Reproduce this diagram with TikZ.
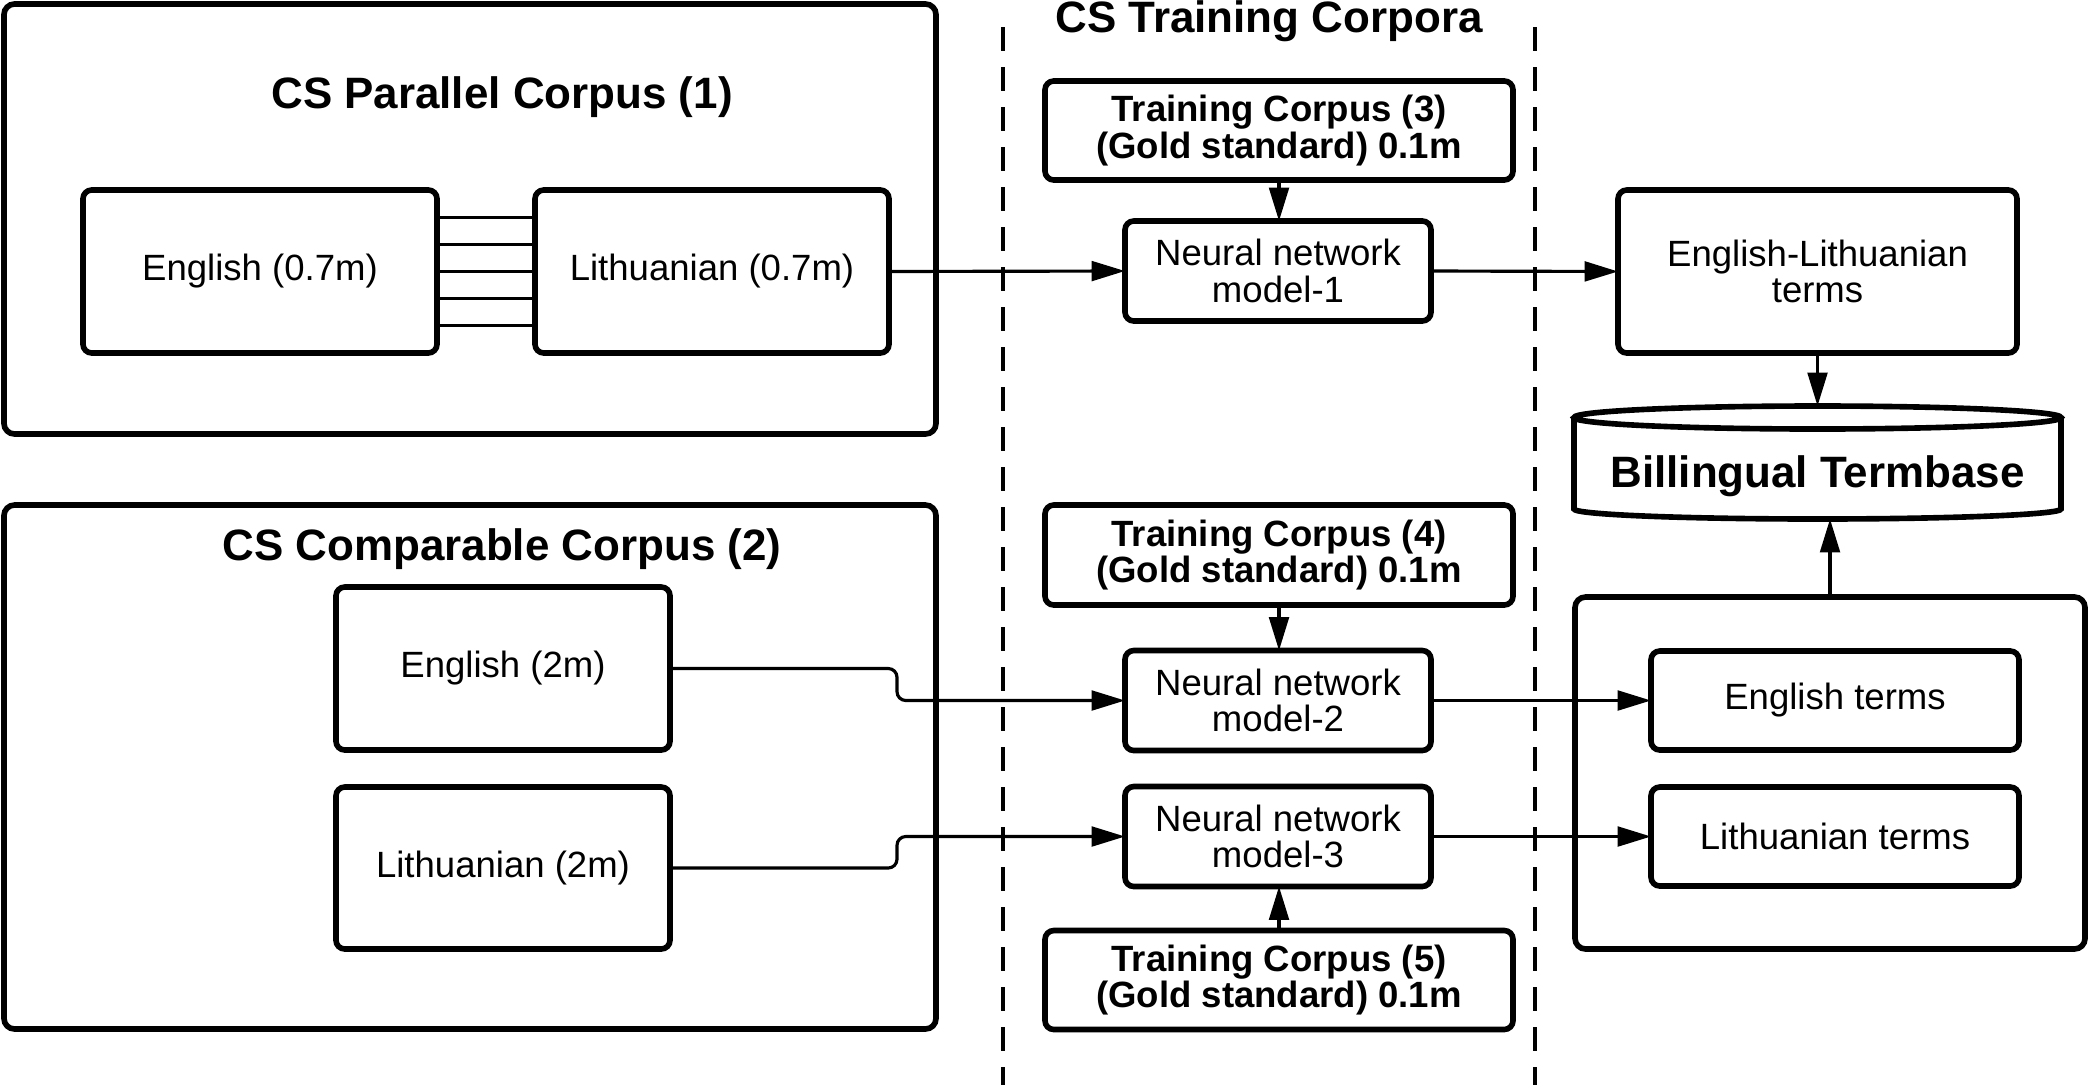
\documentclass[tikz,border=0pt]{standalone}
\usepackage{fontspec}
\setmainfont{Liberation Sans}
\usetikzlibrary{arrows.meta,positioning,calc}

\tikzset{
  corpbox/.style={draw, line width=1.6pt, rounded corners=2.5pt, inner sep=0pt,
    outer sep=0pt, align=center, font=\fontsize{10.4}{10.3}\selectfont},
  goldbox/.style={corpbox, font=\fontsize{10.4}{10.3}\selectfont\bfseries},
  outerbox/.style={draw, line width=1.6pt, rounded corners=3pt, inner sep=0pt, outer sep=0pt},
  headline/.style={font=\fontsize{12.5}{15}\selectfont\bfseries},
  wire/.style={line width=0.9pt},
  arr/.style={wire, -{Triangle[length=9.5pt,width=5.6pt]}},
  lane/.style={line width=1.1pt, dash pattern=on 0.24cm off 0.16cm}
}

\begin{document}
\begin{tikzpicture}
  \useasboundingbox (0,0) rectangle (20.88,-10.85);

  % CS parallel corpus
  \node[outerbox, minimum width=9.32cm, minimum height=4.30cm] (par) at (4.70,-2.19) {};
  \node[headline] (partitle) at (5.02,-0.97) {CS Parallel Corpus (1)};
  \node[corpbox, minimum width=3.54cm, minimum height=1.63cm] (en1) at (2.60,-2.715) {English (0.7m)};
  \node[corpbox, minimum width=3.54cm, minimum height=1.63cm] (lt1) at (7.12,-2.715) {Lithuanian (0.7m)};
  \foreach \dy in {-0.54,-0.27,0,0.27,0.54}
    \draw[wire] ([yshift=\dy cm]en1.east) -- ([yshift=\dy cm]lt1.west);

  % CS comparable corpus
  \node[outerbox, minimum width=9.32cm, minimum height=5.24cm] (cmp) at (4.70,-7.67) {};
  \node[headline] (cmptitle) at (5.02,-5.49) {CS Comparable Corpus (2)};
  \node[corpbox, minimum width=3.34cm, minimum height=1.63cm] (en2) at (5.03,-6.685) {English (2m)};
  \node[corpbox, minimum width=3.34cm, minimum height=1.62cm] (lt2) at (5.03,-8.68) {Lithuanian (2m)};

  % training corpora lane
  \draw[lane] (10.03,-0.27) -- (10.03,-10.85);
  \draw[lane] (15.35,-0.27) -- (15.35,-10.85);
  \node[headline] (lanetitle) at (12.69,-0.21) {CS Training Corpora};
  \node[goldbox, minimum width=4.68cm, minimum height=0.99cm] (tc3) at (12.79,-1.305) {Training Corpus (3)\\(Gold standard) 0.1m};
  \node[corpbox, minimum width=3.06cm, minimum height=1.00cm] (nn1) at (12.78,-2.71) {Neural network\\model-1};
  \node[goldbox, minimum width=4.68cm, minimum height=1.00cm] (tc4) at (12.79,-5.55) {Training Corpus (4)\\(Gold standard) 0.1m};
  \node[corpbox, minimum width=3.06cm, minimum height=1.00cm] (nn2) at (12.78,-7.005) {Neural network\\model-2};
  \node[corpbox, minimum width=3.06cm, minimum height=1.00cm] (nn3) at (12.78,-8.365) {Neural network\\model-3};
  \node[goldbox, minimum width=4.68cm, minimum height=0.99cm] (tc5) at (12.79,-9.80) {Training Corpus (5)\\(Gold standard) 0.1m};

  % terms
  \node[corpbox, minimum width=3.99cm, minimum height=1.63cm] (elterms) at (18.175,-2.715) {English-Lithuanian\\terms};
  \node[outerbox, minimum width=5.10cm, minimum height=3.52cm] (termset) at (18.30,-7.73) {};
  \node[corpbox, minimum width=3.68cm, minimum height=0.99cm] (enterms) at (18.35,-7.005) {English terms};
  \node[corpbox, minimum width=3.68cm, minimum height=0.99cm] (ltterms) at (18.35,-8.365) {Lithuanian terms};

  % termbase cylinder
  \node[inner sep=0pt, outer sep=0pt, minimum width=4.87cm, minimum height=1.13cm] (termbase) at (18.175,-4.625) {};
  \node[headline] (tbtext) at ([yshift=-0.14cm]termbase.center) {Billingual Termbase};
  \draw[line width=1.6pt] ([yshift=-0.115cm]termbase.north) ellipse[x radius=2.435cm, y radius=0.115cm];
  \draw[line width=1.6pt] ([yshift=-0.115cm]termbase.north west) -- ([yshift=0.10cm]termbase.south west)
    arc[start angle=180, end angle=360, x radius=2.435cm, y radius=0.10cm] -- ([yshift=-0.115cm]termbase.north east);

  % flows
  \draw[arr] (lt1.east) -- (nn1.west);
  \draw[arr] (nn1.east) -- (elterms.west);
  \draw[arr] (tc3.south) -- (tc3.south |- nn1.north);
  \draw[arr] (elterms.south) -- (termbase.north);
  \draw[arr] (tc4.south) -- (tc4.south |- nn2.north);
  \draw[arr] (tc5.north) -- (tc5.north |- nn3.south);
  \draw[arr, rounded corners=2.5pt] (en2.east) -- ([xshift=2.27cm]en2.east) |- (nn2.west);
  \draw[arr, rounded corners=2.5pt] (lt2.east) -- ([xshift=2.27cm]lt2.east) |- (nn3.west);
  \draw[arr] (nn2.east) -- (enterms.west);
  \draw[arr] (nn3.east) -- (ltterms.west);
  \draw[arr] (termset.north) -- (termset.north |- termbase.south);
\end{tikzpicture}
\end{document}
